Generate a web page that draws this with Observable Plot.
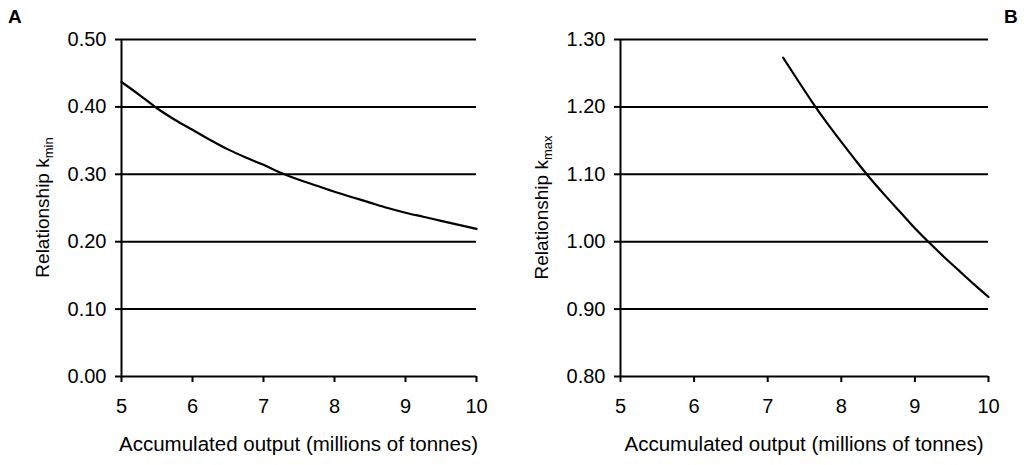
<!DOCTYPE html>
<html>
<head>
<meta charset="utf-8">
<script src="https://cdn.jsdelivr.net/npm/d3@7"></script>
<script src="https://cdn.jsdelivr.net/npm/@observablehq/plot@0.6"></script>
<style>
  html, body { margin: 0; padding: 0; background: #fff; }
  #wrap { position: relative; width: 1024px; height: 465px; font-family: "Liberation Sans", Arial, sans-serif; }
  .panel { position: absolute; top: 0; z-index: 1; }
  .tag { position: absolute; font-weight: bold; font-size: 19px; line-height: 19px; top: 7px; z-index: 2; }
</style>
</head>
<body>
<div id="wrap">
  <div class="tag" style="left:8px">A</div>
  <div class="tag" style="left:1004px">B</div>
  <div id="pa" class="panel" style="left:0px"></div>
  <div id="pb" class="panel" style="left:500px"></div>
</div>
<script>
// Panel A: k_min vs accumulated output
const xA = [5, 5.25, 5.5, 5.75, 6, 6.25, 6.5, 6.75, 7, 7.25, 7.5, 7.75, 8, 8.25, 8.5, 8.75, 9, 9.25, 9.5, 9.75, 10];
const kMin = [0.437, 0.418, 0.398, 0.381, 0.366, 0.351, 0.337, 0.325, 0.314, 0.302, 0.292, 0.283, 0.274, 0.266, 0.258, 0.250, 0.243, 0.237, 0.231, 0.225, 0.219];
// Panel B: k_max vs accumulated output
const xB = [7.21, 7.4, 7.6, 7.8, 8.0, 8.2, 8.4, 8.6, 8.8, 9.0, 9.2, 9.4, 9.6, 9.8, 10];
const kMax = [1.273, 1.241, 1.208, 1.177, 1.148, 1.120, 1.093, 1.068, 1.044, 1.020, 0.998, 0.977, 0.957, 0.937, 0.918];

const xTicks = [5, 6, 7, 8, 9, 10];
const yTicksA = [0, 0.1, 0.2, 0.3, 0.4, 0.5];
const yTicksB = [0.8, 0.9, 1.0, 1.1, 1.2, 1.3];

const xLabel = "Accumulated output (millions of tonnes)";

function panel(xs, ys, yTicks, yDomain, sub, width, marginLeft, marginRight) {
  const data = xs.map((x, i) => ({x, y: ys[i]}));
  const svg = Plot.plot({
    width, height: 465,
    marginLeft, marginRight, marginTop: 39, marginBottom: 89,
    style: {fontFamily: "'Liberation Sans', Arial, sans-serif", fontSize: "20px", color: "black", background: "white", overflow: "visible"},
    x: {domain: [5, 10], ticks: xTicks, tickFormat: d3.format("d"), label: null},
    y: {domain: yDomain, ticks: yTicks, tickFormat: d3.format(".2f"), label: null},
    marks: [
      Plot.ruleY(yTicks, {stroke: "black", strokeWidth: 2}),
      Plot.ruleX([5], {stroke: "black", strokeWidth: 2}),
      Plot.axisY({ticks: yTicks, tickSize: 6, tickPadding: 9, strokeWidth: 2, fontSize: 20, tickFormat: d3.format(".2f")}),
      Plot.axisX({ticks: xTicks, tickSize: 6, tickPadding: 16, strokeWidth: 2, fontSize: 20, tickFormat: d3.format("d")}),
      Plot.line(data, {x: "x", y: "y", stroke: "black", strokeWidth: 2.2, curve: "monotone-x"})
    ]
  });
  const s = d3.select(svg);
  const plotW = width - marginLeft - marginRight;
  // x-axis title
  s.append("text")
    .attr("x", marginLeft + plotW / 2).attr("y", 451)
    .attr("text-anchor", "middle").attr("font-size", 20.5).attr("fill", "black")
    .text(xLabel);
  // y-axis title with subscript
  const t = s.append("text")
    .attr("transform", `translate(${marginLeft - 72},${39 + 337 / 2}) rotate(-90)`)
    .attr("text-anchor", "middle").attr("font-size", 19).attr("fill", "black");
  t.append("tspan").text("Relationship k");
  t.append("tspan").attr("font-size", 13).attr("dy", 4).text(sub);
  return svg;
}

document.getElementById("pa").appendChild(panel(xA, kMin, yTicksA, [0, 0.5], "min", 500, 121, 24));
document.getElementById("pb").appendChild(panel(xB, kMax, yTicksB, [0.8, 1.3], "max", 524, 120, 36));
</script>
</body>
</html>
